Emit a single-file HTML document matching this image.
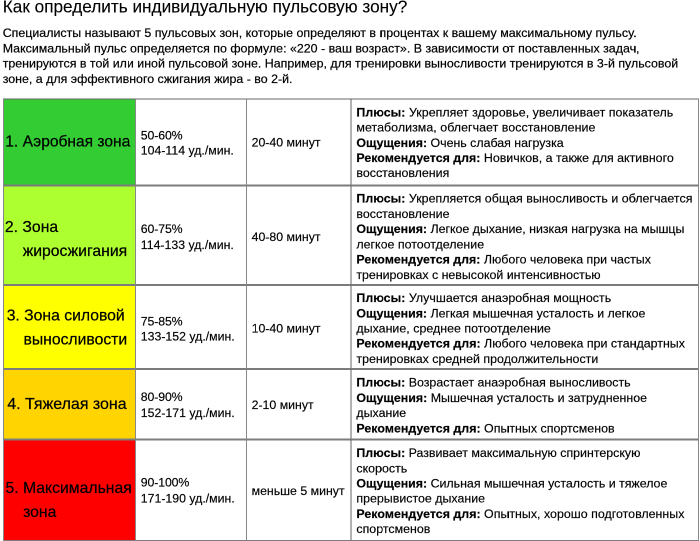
<!DOCTYPE html>
<html lang="ru">
<head>
<meta charset="utf-8">
<title>Как определить индивидуальную пульсовую зону?</title>
<style>
html,body{margin:0;padding:0;background:#fff;}
body{width:700px;height:541px;overflow:hidden;position:relative;}
#page{position:absolute;left:0;top:0;width:1400px;height:1082px;transform:scale(0.5);transform-origin:0 0;will-change:transform;
 font-family:"Liberation Sans",Arial,Helvetica,sans-serif;color:#000;font-size:24.82px;line-height:29.7px;
 -webkit-text-stroke:0.4px #000;}
h1{-webkit-text-stroke:0.24px #000;position:absolute;left:5.6px;top:-6.8px;margin:0;font-weight:normal;font-size:34.36px;line-height:40px;white-space:nowrap;}
p.intro{position:absolute;left:5.4px;top:51.4px;margin:0;font-size:24.82px;line-height:30.4px;white-space:nowrap;}
table{-webkit-text-stroke:0.32px #000;position:absolute;left:6.2px;top:196.8px;border-collapse:separate;border-spacing:0;table-layout:fixed;}
td{box-sizing:border-box;padding:0;vertical-align:middle;white-space:nowrap;overflow:hidden;border:0 solid #7c7c7c;border-left-color:#888;border-right-color:#888;}
td>div{position:relative;}
td.z{-webkit-text-stroke:0.44px #000;font-size:31.1px;line-height:49px;}
.i{display:inline-block;}
</style>
</head>
<body>
<div id="page">
<h1>Как определить индивидуальную пульсовую зону?</h1>
<p class="intro">Специалисты называют 5 пульсовых зон, которые определяют в процентах к вашему максимальному пульсу.<br>Максимальный пульс определяется по формуле: «220 - ваш возраст». В зависимости от поставленных задач,<br>тренируются в той или иной пульсовой зоне. Например, для тренировки выносливости тренируются в 3-й пульсовой<br>зоне, а для эффективного сжигания жира - во 2-й.</p>
<table>
<colgroup><col style="width:264px"><col style="width:222px"><col style="width:209px"><col style="width:697px"></colgroup>
<tr style="height:172px">
<td class="z" style="border-top-width:2px;border-left-width:2px;border-top-color:#666;height:172px;background:#33cc33;font-size:31.1px;line-height:49px;"><div style="left:2.4px;top:-1px">1. Аэробная зона</div></td>
<td class="p" style="border-top-width:2px;border-left-width:2px;border-top-color:#666;height:172px;font-size:24.64px;line-height:29.8px;"><div style="left:9.4px;top:2.4px"><span style="letter-spacing:-0.24px">50-60%</span><br>104-114 уд./мин.</div></td>
<td class="t" style="border-top-width:2px;border-left-width:2px;border-top-color:#666;height:172px;font-size:24.66px;"><div style="left:9px;top:1.2px">20-40 минут</div></td>
<td class="d" style="border-top-width:2px;border-left-width:2px;border-right-width:2px;border-left-color:#626262;border-top-color:#666;height:172px;line-height:30.4px;"><div style="left:9.6px;top:2px"><span class="l" style="letter-spacing:0.07px"><b>Плюсы:</b> Укрепляет здоровье, увеличивает показатель</span><br><span class="l" style="letter-spacing:0.08px">метаболизма, облегчает восстановление</span><br><span class="l" style="letter-spacing:-0.04px"><b>Ощущения:</b> Очень слабая нагрузка</span><br><span class="l"><b>Рекомендуется для:</b> Новичков, а также для активного</span><br><span class="l">восстановления</span></div></td>
</tr>
<tr style="height:199px">
<td class="z" style="border-top-width:4px;border-left-width:2px;height:199px;background:#adff2f;font-size:31.52px;line-height:48.2px;"><div style="left:1.6px;top:7.2px">2. Зона<br><span class="i" style="padding-left:35.6px">жиросжигания</span></div></td>
<td class="p" style="border-top-width:4px;border-left-width:2px;height:199px;font-size:24.64px;line-height:32.2px;"><div style="left:9.4px;top:4px"><span style="letter-spacing:-0.24px">60-75%</span><br>114-133 уд./мин.</div></td>
<td class="t" style="border-top-width:4px;border-left-width:2px;height:199px;font-size:24.66px;"><div style="left:9px;top:3.8px">40-80 минут</div></td>
<td class="d" style="border-top-width:4px;border-left-width:2px;border-right-width:2px;border-left-color:#626262;height:199px;line-height:30.5px;"><div style="left:9.6px;top:3.6px"><span class="l" style="letter-spacing:0.05px"><b>Плюсы:</b> Укрепляется общая выносливость и облегчается</span><br><span class="l">восстановление</span><br><span class="l" style="letter-spacing:-0.05px"><b>Ощущения:</b> Легкое дыхание, низкая нагрузка на мышцы</span><br><span class="l">легкое потоотделение</span><br><span class="l"><b>Рекомендуется для:</b> Любого человека при частых</span><br><span class="l" style="letter-spacing:-0.05px">тренировках с невысокой интенсивностью</span></div></td>
</tr>
<tr style="height:168px">
<td class="z" style="border-top-width:4px;border-left-width:2px;height:168px;background:#ffff00;font-size:31.46px;line-height:47.4px;"><div style="left:5.2px;top:0.8px">3. Зона силовой<br><span class="i" style="padding-left:33.6px">выносливости</span></div></td>
<td class="p" style="border-top-width:4px;border-left-width:2px;height:168px;font-size:24.64px;line-height:29.8px;"><div style="left:9.4px;top:4px"><span style="letter-spacing:-0.24px">75-85%</span><br>133-152 уд./мин.</div></td>
<td class="t" style="border-top-width:4px;border-left-width:2px;height:168px;font-size:24.66px;"><div style="left:9px;top:2.8px">10-40 минут</div></td>
<td class="d" style="border-top-width:4px;border-left-width:2px;border-right-width:2px;border-left-color:#626262;height:168px;line-height:30.4px;"><div style="left:9.6px;top:3.4px"><span class="l" style="letter-spacing:0.04px"><b>Плюсы:</b> Улучшается анаэробная мощность</span><br><span class="l" style="letter-spacing:-0.05px"><b>Ощущения:</b> Легкая мышечная усталость и легкое</span><br><span class="l" style="letter-spacing:0.03px">дыхание, среднее потоотделение</span><br><span class="l" style="letter-spacing:0.02px"><b>Рекомендуется для:</b> Любого человека при стандартных</span><br><span class="l">тренировках средней продолжительности</span></div></td>
</tr>
<tr style="height:141px">
<td class="z" style="border-top-width:4px;border-left-width:2px;height:141px;background:#ffd400;font-size:31.96px;line-height:49px;"><div style="left:6.4px;top:-0.8px">4. Тяжелая зона</div></td>
<td class="p" style="border-top-width:4px;border-left-width:2px;height:141px;font-size:24.64px;line-height:31.5px;"><div style="left:9.4px;top:1.7px"><span style="letter-spacing:-0.24px">80-90%</span><br>152-171 уд./мин.</div></td>
<td class="t" style="border-top-width:4px;border-left-width:2px;height:141px;font-size:24.66px;"><div style="left:9px;top:1.4px">2-10 минут</div></td>
<td class="d" style="border-top-width:4px;border-left-width:2px;border-right-width:2px;border-left-color:#626262;height:141px;line-height:30.4px;"><div style="left:9.6px;top:3px"><span class="l"><b>Плюсы:</b> Возрастает анаэробная выносливость</span><br><span class="l"><b>Ощущения:</b> Мышечная усталость и затрудненное</span><br><span class="l">дыхание</span><br><span class="l" style="letter-spacing:0.02px"><b>Рекомендуется для:</b> Опытных спортсменов</span></div></td>
</tr>
<tr style="height:205px">
<td class="z" style="border-top-width:4px;border-left-width:2px;border-bottom-width:2px;height:205px;background:#ff0000;font-size:31.5px;line-height:48px;"><div style="left:2.8px;top:19.1px">5. Максимальная<br><span class="i" style="padding-left:35.2px">зона</span></div></td>
<td class="p" style="border-top-width:4px;border-left-width:2px;border-bottom-width:2px;height:205px;font-size:24.64px;line-height:31.8px;"><div style="left:9.4px;top:0.8px"><span style="letter-spacing:-0.24px">90-100%</span><br>171-190 уд./мин.</div></td>
<td class="t" style="border-top-width:4px;border-left-width:2px;border-bottom-width:2px;height:205px;font-size:24.66px;"><div style="left:9px;top:1.2px">меньше 5 минут</div></td>
<td class="d" style="border-top-width:4px;border-left-width:2px;border-right-width:2px;border-left-color:#626262;border-bottom-width:2px;height:205px;line-height:30.4px;"><div style="left:9.6px;top:2.2px"><span class="l" style="letter-spacing:-0.02px"><b>Плюсы:</b> Развивает максимальную спринтерскую</span><br><span class="l">скорость</span><br><span class="l" style="letter-spacing:-0.03px"><b>Ощущения:</b> Сильная мышечная усталость и тяжелое</span><br><span class="l">прерывистое дыхание</span><br><span class="l" style="letter-spacing:0.02px"><b>Рекомендуется для:</b> Опытных, хорошо подготовленных</span><br><span class="l">спортсменов</span></div></td>
</tr>
</table>
</div>
</body>
</html>
